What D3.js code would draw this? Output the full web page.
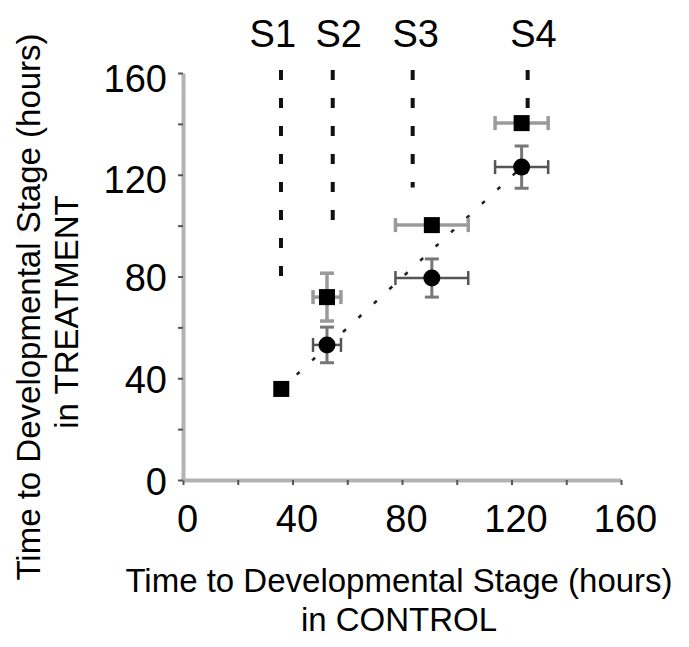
<!DOCTYPE html>
<html>
<head>
<meta charset="utf-8">
<script src="https://cdn.jsdelivr.net/npm/d3@7"></script>
<style>
  html, body { margin: 0; padding: 0; background: #fff; }
  svg { display: block; font-family: "Liberation Sans", Arial, sans-serif; }
</style>
</head>
<body>
<svg id="chart" width="689" height="647"></svg>
<script>
// ---- data ----
const stageLabels = ["S1", "S2", "S3", "S4"];
const stageLabelX = [32.8, 56.9, 85.0, 128.0];
const stageLineX = [35.8, 54.7, 83.9, 125.9];
const stageLineTop = [160, 160, 160, 160];
const stageLineBottom = [78.6, 101, 115, 146];

const controlX = [35.9, 52.6, 90.9, 123.7];
const controlXErr = [0, 5.1, 13.3, 9.7];

const squareY = [35.8, 71.9, 100.2, 140.3];
const squareYErr = [0, 9.4, 0, 0];
const circleStages = [1, 2, 3];
const circleY = [53.1, 79.4, 123.0];
const circleYErr = [7.0, 7.5, 8.3];

const diagX = [35.9, 123.7];
const diagY = [35.8, 123.0];

const axisTicks = [0, 20, 40, 60, 80, 100, 120, 140, 160];
const tickLabels = [0, 40, 80, 120, 160];
const xTitle = ["Time to Developmental Stage (hours)", "in CONTROL"];
const yTitle = ["Time to Developmental Stage (hours)", "in TREATMENT"];

// ---- scales ----
const svg = d3.select("#chart");
const x = d3.scaleLinear().domain([0, 160]).range([183, 621]);
const y = d3.scaleLinear().domain([0, 160]).range([480, 73]);

// ---- axes ----
const fmt = d => tickLabels.includes(d) ? String(d) : "";
const xAxis = svg.append("g").attr("transform", `translate(0,${y(0)})`)
  .call(d3.axisBottom(x).tickValues(axisTicks).tickFormat(fmt).tickSize(5).tickSizeOuter(0).tickPadding(20));
const yAxis = svg.append("g").attr("transform", `translate(${x(0)},0)`)
  .call(d3.axisLeft(y).tickValues(axisTicks).tickFormat(fmt).tickSize(5).tickSizeOuter(0).tickPadding(11));
[xAxis, yAxis].forEach(g => {
  g.select(".domain").attr("stroke", "#b3b3b3").attr("stroke-width", 4);
  g.selectAll(".tick line").attr("stroke", "#555").attr("stroke-width", 2);
  g.selectAll(".tick text").attr("fill", "#000").style("font-size", "38px")
    .style("font-family", "'Liberation Sans', Arial, sans-serif");
});
xAxis.selectAll(".tick text").attr("dx", "4");
yAxis.selectAll(".tick text").attr("transform", d => `translate(0,${d >= 120 ? 6 : 2})`);

// ---- stage dashed lines ----
svg.append("g").selectAll("line").data(stageLineX).join("line")
  .attr("x1", d => x(d)).attr("x2", d => x(d))
  .attr("y1", (d, i) => y(stageLineTop[i]) - 3)
  .attr("y2", (d, i) => y(stageLineBottom[i]))
  .attr("stroke", "#111").attr("stroke-width", 4)
  .attr("stroke-dasharray", "10,18");

svg.append("g").selectAll("text").data(stageLabels).join("text")
  .attr("x", (d, i) => x(stageLabelX[i])).attr("y", 47)
  .attr("text-anchor", "middle").style("font-size", "38px").attr("fill", "#000")
  .text(d => d);

// ---- diagonal dotted line ----
svg.append("line")
  .attr("x1", x(diagX[0])).attr("y1", y(diagY[0]))
  .attr("x2", x(diagX[1])).attr("y2", y(diagY[1]))
  .attr("stroke", "#222").attr("stroke-width", 2.5)
  .attr("stroke-dasharray", "4,17");

// ---- error bars ----
const cap = 7;
function hBar(g, cx, cy, err, color, w) {
  if (err <= 0) return;
  g.append("line").attr("x1", x(cx - err)).attr("x2", x(cx + err)).attr("y1", y(cy)).attr("y2", y(cy))
    .attr("stroke", color).attr("stroke-width", w);
  [cx - err, cx + err].forEach(v => g.append("line").attr("x1", x(v)).attr("x2", x(v))
    .attr("y1", y(cy) - cap).attr("y2", y(cy) + cap).attr("stroke", color).attr("stroke-width", w));
}
function vBar(g, cx, cy, err, color, w) {
  if (err <= 0) return;
  g.append("line").attr("x1", x(cx)).attr("x2", x(cx)).attr("y1", y(cy - err)).attr("y2", y(cy + err))
    .attr("stroke", color).attr("stroke-width", w);
  [cy - err, cy + err].forEach(v => g.append("line").attr("y1", y(v)).attr("y2", y(v))
    .attr("x1", x(cx) - cap).attr("x2", x(cx) + cap).attr("stroke", color).attr("stroke-width", w));
}
const eb = svg.append("g");
controlX.forEach((cx, i) => {
  hBar(eb, cx, squareY[i], controlXErr[i], "#9a9a9a", 3.5);
  vBar(eb, cx, squareY[i], squareYErr[i], "#9a9a9a", 3.5);
});
circleStages.forEach((s, j) => {
  hBar(eb, controlX[s], circleY[j], controlXErr[s], "#555", 2.5);
  vBar(eb, controlX[s], circleY[j], circleYErr[j], "#777", 3);
});

// ---- markers ----
const sq = 16;
svg.append("g").selectAll("rect").data(controlX).join("rect")
  .attr("x", d => x(d) - sq / 2).attr("y", (d, i) => y(squareY[i]) - sq / 2)
  .attr("width", sq).attr("height", sq).attr("fill", "#000");
svg.append("g").selectAll("circle").data(circleStages).join("circle")
  .attr("cx", s => x(controlX[s])).attr("cy", (s, j) => y(circleY[j]))
  .attr("r", 8.5).attr("fill", "#000");

// ---- axis titles ----
const xt = svg.append("text").attr("text-anchor", "middle").style("font-size", "33px").attr("fill", "#000");
xt.append("tspan").attr("x", 399).attr("y", 592).text(xTitle[0]);
xt.append("tspan").attr("x", 399).attr("y", 631).text(xTitle[1]);
const yt = svg.append("text").attr("text-anchor", "middle").style("font-size", "33px").attr("fill", "#000")
  .attr("transform", "rotate(-90)");
yt.append("tspan").attr("x", -307).attr("y", 40).text(yTitle[0]);
yt.append("tspan").attr("x", -312).attr("y", 78).text(yTitle[1]);
</script>
</body>
</html>
